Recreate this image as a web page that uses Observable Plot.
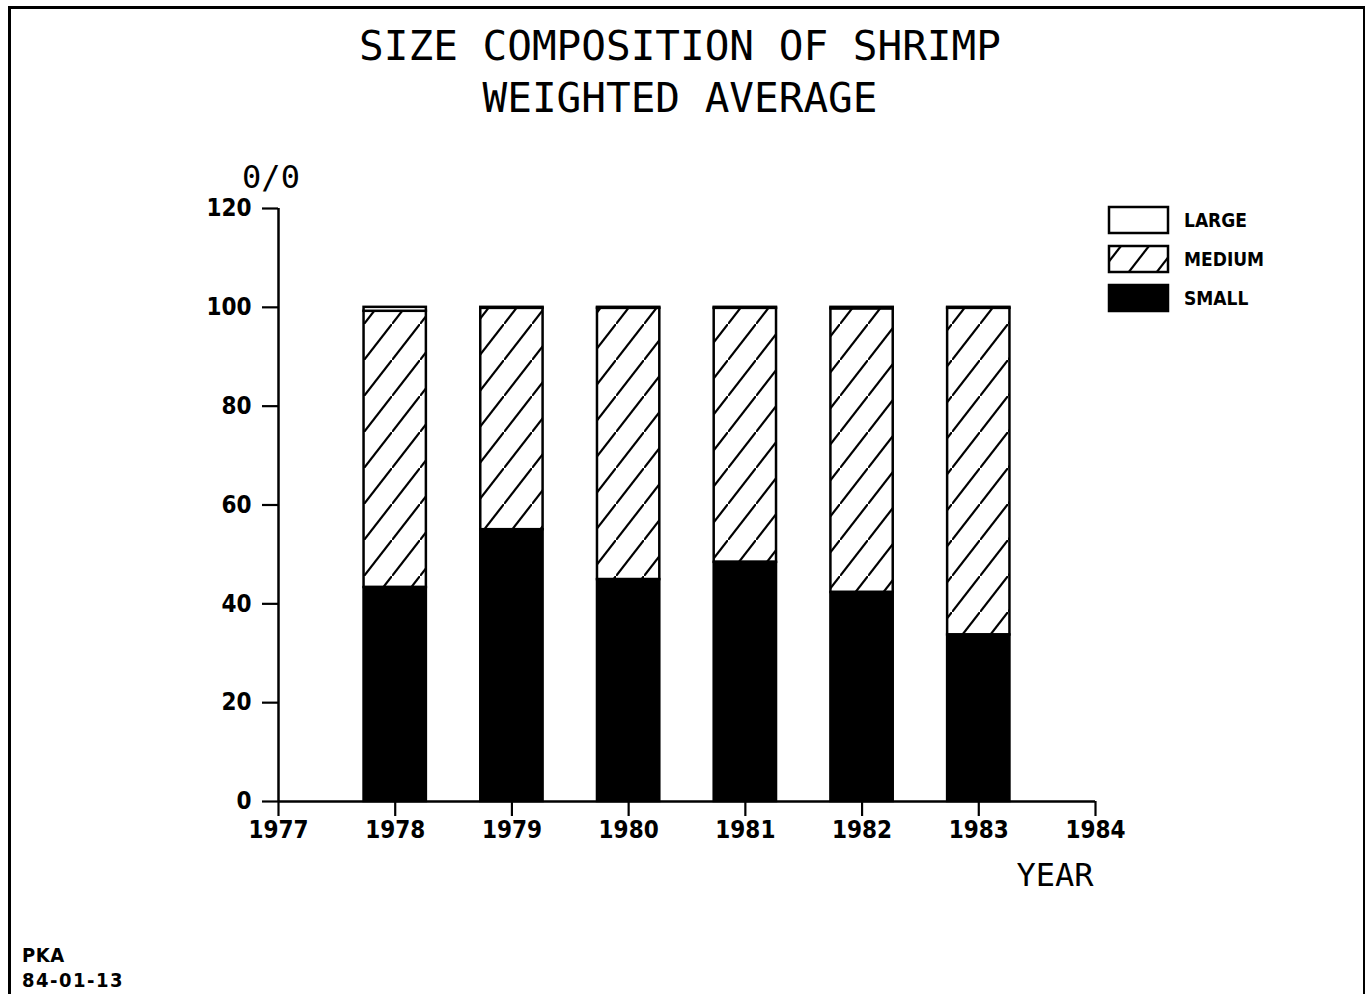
<!DOCTYPE html>
<html>
<head>
<meta charset="utf-8">
<script src="https://cdn.jsdelivr.net/npm/d3@7"></script>
<script src="https://cdn.jsdelivr.net/npm/@observablehq/plot@0.6"></script>
<style>
  html, body { margin: 0; padding: 0; background: #fff; }
  #page { position: relative; width: 1367px; height: 994px; overflow: hidden; background: #fff; }
  .abs { position: absolute; line-height: 1; color: #000; white-space: nowrap; }
  .plotter { font-family: "DejaVu Sans Mono", monospace; font-weight: normal; }
  .bold { font-family: "DejaVu Sans Condensed", "DejaVu Sans", sans-serif; font-stretch: condensed; font-weight: bold; }
  #frame { position: absolute; left: 8px; top: 6px; width: 1352px; height: 1000px;
           border-left: 3px solid #000; border-top: 3px solid #000; border-right: 2px solid #000; }
  #chart { position: absolute; left: 0; top: 0; }
</style>
</head>
<body>
<div id="page">
  <div id="frame"></div>
  <div id="chart"></div>
  <div class="abs plotter" style="left:680px;top:46px;transform:translate(-50%,-50%);font-size:41px;">SIZE COMPOSITION OF SHRIMP</div>
  <div class="abs plotter" style="left:680px;top:98px;transform:translate(-50%,-50%);font-size:41px;">WEIGHTED AVERAGE</div>
  <div class="abs plotter" style="left:271px;top:177px;transform:translate(-50%,-50%);font-size:32px;">0/0</div>
  <div class="abs plotter" style="left:1055px;top:875px;transform:translate(-50%,-50%);font-size:32px;">YEAR</div>
  <div class="abs bold" style="left:22px;top:955px;transform:translate(0,-50%);font-size:20px;letter-spacing:0.5px;">PKA</div>
  <div class="abs bold" style="left:22px;top:980px;transform:translate(0,-50%);font-size:20px;letter-spacing:1.5px;">84-01-13</div>
  <svg id="legend" width="240" height="130" style="position:absolute;left:1100px;top:198px;">
    <defs>
      <pattern id="hatch2" patternUnits="userSpaceOnUse" width="28" height="36" x="0" y="0">
        <path d="M-2,38.6 L30,-2.6" stroke="#000" stroke-width="2.2" fill="none"/>
      </pattern>
    </defs>
  </svg>
</div>
<script>
// ---- data ----
const years  = [1978, 1979, 1980, 1981, 1982, 1983];
const small  = [43.3, 55.0, 44.9, 48.4, 42.3, 33.7];
const medium = [55.9, 44.8, 54.9, 51.4, 57.4, 66.1];
const large  = [0.8, 0.2, 0.2, 0.2, 0.3, 0.2];
const seriesNames = ["LARGE", "MEDIUM", "SMALL"];
const xTicks = [1977, 1978, 1979, 1980, 1981, 1982, 1983, 1984];
const yTicks = [0, 20, 40, 60, 80, 100, 120];

// stacked rows built from the arrays
const rows = years.map((year, i) => ({
  year,
  s1: 0, s2: small[i],
  m1: small[i], m2: small[i] + medium[i],
  l1: small[i] + medium[i], l2: small[i] + medium[i] + large[i]
}));

const hw = 0.267; // half bar width in years
const fills = {SMALL: "#000", MEDIUM: "url(#hatch)", LARGE: "#fff"};

const chart = Plot.plot({
  width: 1367,
  height: 994,
  marginLeft: 278,
  marginRight: 272,
  marginTop: 208,
  marginBottom: 193,
  style: {background: "transparent", fontFamily: "'DejaVu Sans Condensed','DejaVu Sans',sans-serif", fontSize: "24px", fontWeight: "bold", color: "#000", overflow: "visible"},
  x: {domain: [1977, 1984], label: null},
  y: {domain: [0, 120], label: null},
  marks: [
    Plot.rect(rows, {x1: d => d.year - hw, x2: d => d.year + hw, y1: "s1", y2: "s2", fill: fills.SMALL, stroke: "#000", strokeWidth: 2.5}),
    Plot.rect(rows, {x1: d => d.year - hw, x2: d => d.year + hw, y1: "m1", y2: "m2", fill: fills.MEDIUM, stroke: "#000", strokeWidth: 2.5}),
    Plot.rect(rows, {x1: d => d.year - hw, x2: d => d.year + hw, y1: "l1", y2: "l2", fill: fills.LARGE, stroke: "#000", strokeWidth: 2.5}),
    Plot.axisY({ticks: yTicks, tickSize: 16, tickPadding: 11, tickFormat: d => String(d), label: null, strokeWidth: 2.2, fontSize: 24, fontWeight: "bold"}),
    Plot.axisX({ticks: xTicks, tickSize: 15, tickPadding: 4, tickFormat: d => String(d), label: null, strokeWidth: 2.2, fontSize: 24, fontWeight: "bold"}),
    Plot.ruleX([1977], {y1: 0, y2: 120, stroke: "#000", strokeWidth: 2.5}),
    Plot.ruleY([0], {x1: 1977, x2: 1984, stroke: "#000", strokeWidth: 2.5})
  ]
});

// hatch pattern used by the MEDIUM segments
const svg = d3.select(chart);
const defs = svg.insert("defs", ":first-child");
defs.append("pattern")
  .attr("id", "hatch")
  .attr("patternUnits", "userSpaceOnUse")
  .attr("width", 28).attr("height", 36)
  .append("path")
  .attr("d", "M-2,38.6 L30,-2.6")
  .attr("stroke", "#000").attr("stroke-width", 2.2).attr("fill", "none");
svg.style("font-stretch", "condensed");
document.getElementById("chart").appendChild(chart);

// legend
const legend = d3.select("#legend");
const legendFill = {LARGE: "#fff", MEDIUM: "url(#hatch2)", SMALL: "#000"};
seriesNames.forEach((name, i) => {
  const g = legend.append("g").attr("transform", `translate(0, ${i * 39})`);
  g.append("rect").attr("x", 9).attr("y", 9).attr("width", 59).attr("height", 26)
    .attr("fill", legendFill[name]).attr("stroke", "#000").attr("stroke-width", 2.5);
  g.append("text").attr("x", 84).attr("y", 22).attr("dy", "0.36em")
    .attr("font-family", "'DejaVu Sans Condensed','DejaVu Sans',sans-serif")
    .attr("font-stretch", "condensed")
    .attr("font-weight", "bold").attr("font-size", 19).text(name);
});
</script>
</body>
</html>
